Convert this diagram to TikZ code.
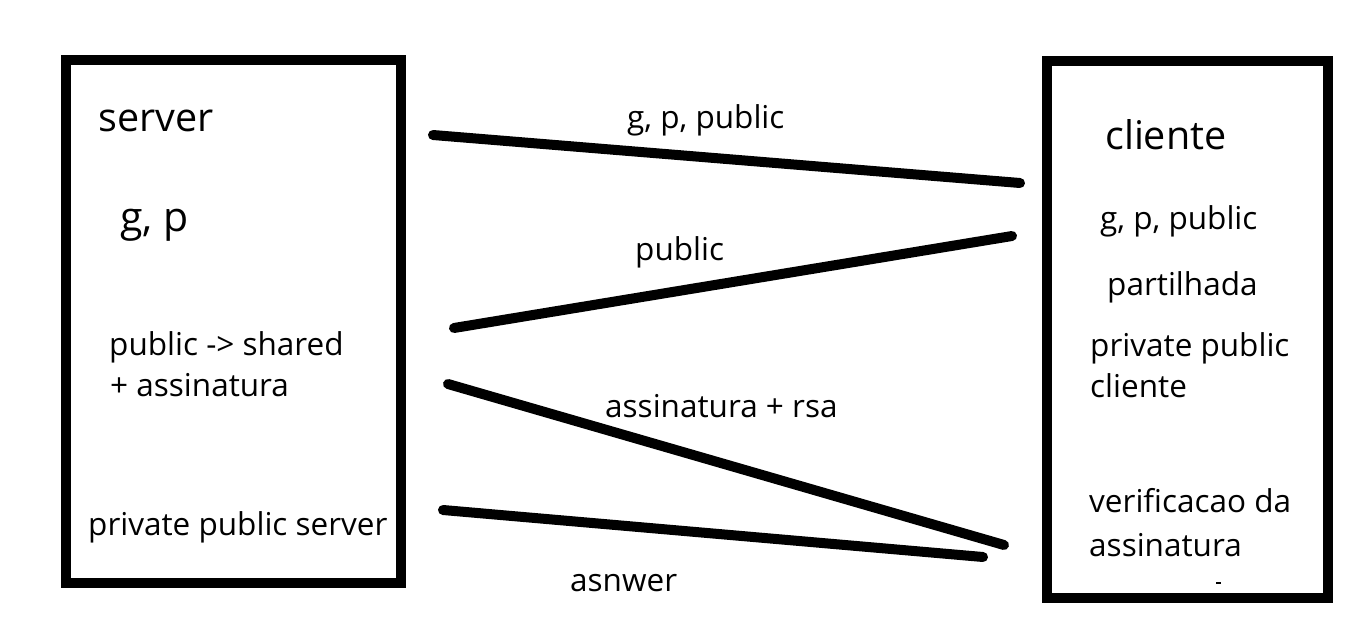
\documentclass[tikz,border=0pt]{standalone}
\usepackage{fontspec}
\setmainfont{Open Sans}
\usepackage{tikz}
\usetikzlibrary{calc,positioning}
\tikzstyle{party}=[draw,line width=10pt,line join=miter,inner sep=0pt]
\tikzstyle{bigtext}=[font=\fontsize{39.5}{46}\selectfont,anchor=base west,inner sep=0pt]
\tikzstyle{smalltext}=[font=\fontsize{31.5}{38}\selectfont,anchor=base west,inner sep=0pt]
\tikzstyle{msg}=[line width=10pt,line cap=round]

\begin{document}
\begin{tikzpicture}[x=1pt,y=-1pt]
\useasboundingbox (0,0) rectangle (1350,629);
% the two boxes
\draw [party] (66,60) rectangle (401,583);
\draw [party] (1047,61) rectangle (1328,598);
\fill (1216,582) rectangle (1221,584);
% server side
\node [bigtext] (server) at (98,131) {server};
\node [bigtext,font=\fontsize{41}{48}\selectfont] (gp) at (120,231) {g, p};
\node [smalltext] (shared) at (109,355) {public -> shared};
\node [smalltext] (signs) at (110,396) {+ assinatura};
\node [smalltext] (spriv) at (88,535) {private public server};
% client side
\node [bigtext] (cliente) at (1105,149) {cliente};
\node [smalltext] (cgp) at (1100,229) {g, p, public};
\node [smalltext] (part) at (1107,295) {partilhada};
\node [smalltext] (cpriv) at (1090,356) {private public};
\node [smalltext] (cpriv2) at (1090,397) {cliente};
\node [smalltext] (verif) at (1089,512) {verificacao da};
\node [smalltext] (verif2) at (1089,556) {assinatura};
% message ends
\coordinate (m1s) at (433,135);
\coordinate (m1c) at (1020,183);
\coordinate (m2c) at (1012,236);
\coordinate (m2s) at (454,328);
\coordinate (m3s) at (448,384);
\coordinate (m3c) at (1004,545);
\coordinate (m4s) at (443,510);
\coordinate (m4c) at (983,557);
% messages
\draw [msg] (m1s) -- (m1c);
\draw [msg] (m2c) -- (m2s);
\draw [msg] (m3s) -- (m3c);
\draw [msg] (m4s) -- (m4c);
\node [smalltext] (l1) at (627,128) {g, p, public};
\node [smalltext] (l2) at (635,260) {public};
\node [smalltext] (l3) at (605,417) {assinatura + rsa};
\node [smalltext] (l4) at (570,591) {asnwer};
\end{tikzpicture}
\end{document}
